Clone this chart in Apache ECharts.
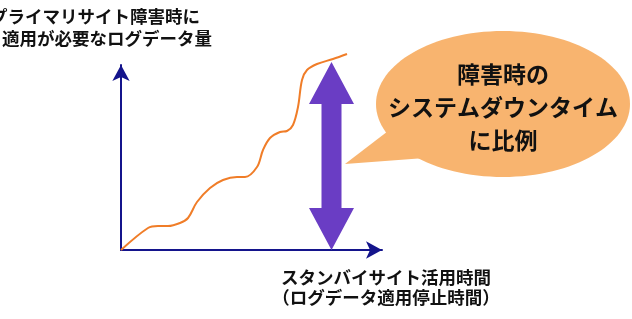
<!DOCTYPE html>
<html>
<head>
<meta charset="utf-8">
<script src="https://cdn.jsdelivr.net/npm/echarts@6/dist/echarts.min.js"></script>
<style>html,body{margin:0;padding:0;background:#fff}#c{width:632px;height:319px}</style>
</head>
<body>
<div id="c"></div>
<script>
// Time (standby usage time) vs. amount of log data to apply
const timeValues = [0, 27, 37, 47, 59, 67, 76, 89, 102, 116, 124, 136, 142, 149, 159, 166, 172, 177, 181, 186, 196, 212, 226];
const logValues  = [0, 22, 24, 24, 27, 32, 48, 62, 70, 73, 73, 83, 100, 112, 118, 119, 125, 143, 170, 180, 186, 191, 196];
// double arrow: [time, low, high]
const downtimeArrow = [[210.5, 0, 188]];
const yTitleLines = ['プライマリサイト障害時に', '適用が必要なログデータ量'];
const xTitleLines = ['スタンバイサイト活用時間', '（ログデータ適用停止時間）'];
const bubbleLines = ['障害時の', 'システムダウンタイム', 'に比例'];

const FONT = '"Noto Sans CJK JP", "Noto Sans", sans-serif';
const AXIS = '#14148c';

const chart = echarts.init(document.getElementById('c'), null, {renderer: 'canvas'});

const lineData = timeValues.map((t, i) => [t, logValues[i]]);

chart.setOption({
  animation: false,
  backgroundColor: '#ffffff',
  grid: {left: 121, top: 65, width: 261, height: 185, containLabel: false},
  xAxis: {
    type: 'value', min: 0, max: 261,
    axisLine: {show: true, onZero: false, symbol: ['none', 'arrow'], symbolSize: [13, 16], lineStyle: {color: AXIS, width: 2}},
    axisTick: {show: false}, axisLabel: {show: false}, splitLine: {show: false}
  },
  yAxis: {
    type: 'value', min: 0, max: 185,
    axisLine: {show: true, onZero: false, symbol: ['none', 'arrow'], symbolSize: [13, 16], lineStyle: {color: AXIS, width: 2}},
    axisTick: {show: false}, axisLabel: {show: false}, splitLine: {show: false}
  },
  graphic: [
    {type: 'ellipse', shape: {cx: 503, cy: 104, rx: 127, ry: 73}, style: {fill: '#f8b46f'}, z: 1},
    {type: 'polygon', shape: {points: [[392, 128], [345, 164], [425, 158]]}, style: {fill: '#f8b46f'}, z: 1},
    {type: 'text', x: 503, y: 74, z: 2, style: {text: bubbleLines[0], font: 'bold 23px ' + FONT, fill: '#111', align: 'center', verticalAlign: 'middle'}},
    {type: 'text', x: 503, y: 107, z: 2, style: {text: bubbleLines[1], font: 'bold 23px ' + FONT, fill: '#111', align: 'center', verticalAlign: 'middle'}},
    {type: 'text', x: 503, y: 140, z: 2, style: {text: bubbleLines[2], font: 'bold 23px ' + FONT, fill: '#111', align: 'center', verticalAlign: 'middle'}},
    {type: 'text', x: 200, y: 16, z: 2, style: {text: yTitleLines[0], font: 'bold 17.5px ' + FONT, fill: '#111', align: 'right', verticalAlign: 'middle'}},
    {type: 'text', x: 212, y: 38, z: 2, style: {text: yTitleLines[1], font: 'bold 17.5px ' + FONT, fill: '#111', align: 'right', verticalAlign: 'middle'}},
    {type: 'text', x: 386, y: 277, z: 2, style: {text: xTitleLines[0], font: 'bold 17.5px ' + FONT, fill: '#111', align: 'center', verticalAlign: 'middle'}},
    {type: 'text', x: 386, y: 297, z: 2, style: {text: xTitleLines[1], font: 'bold 17.5px ' + FONT, fill: '#111', align: 'center', verticalAlign: 'middle'}}
  ],
  series: [
    {
      type: 'line', data: lineData, smooth: 0.35, showSymbol: false, clip: false,
      lineStyle: {color: '#f07d28', width: 2}, z: 3
    },
    {
      type: 'custom', data: downtimeArrow, clip: false, z: 4,
      renderItem: function (params, api) {
        const x = api.value(0);
        const bot = api.coord([x, api.value(1)]);
        const top = api.coord([x, api.value(2)]);
        const cx = top[0], hw = 22.5, sw = 10, hl = 42;
        return {
          type: 'polygon',
          shape: {points: [
            [cx, top[1]], [cx + hw, top[1] + hl], [cx + sw, top[1] + hl],
            [cx + sw, bot[1] - hl], [cx + hw, bot[1] - hl], [cx, bot[1]],
            [cx - hw, bot[1] - hl], [cx - sw, bot[1] - hl], [cx - sw, top[1] + hl],
            [cx - hw, top[1] + hl]
          ]},
          style: {fill: '#6a3dc4'}
        };
      }
    }
  ]
});
</script>
</body>
</html>
